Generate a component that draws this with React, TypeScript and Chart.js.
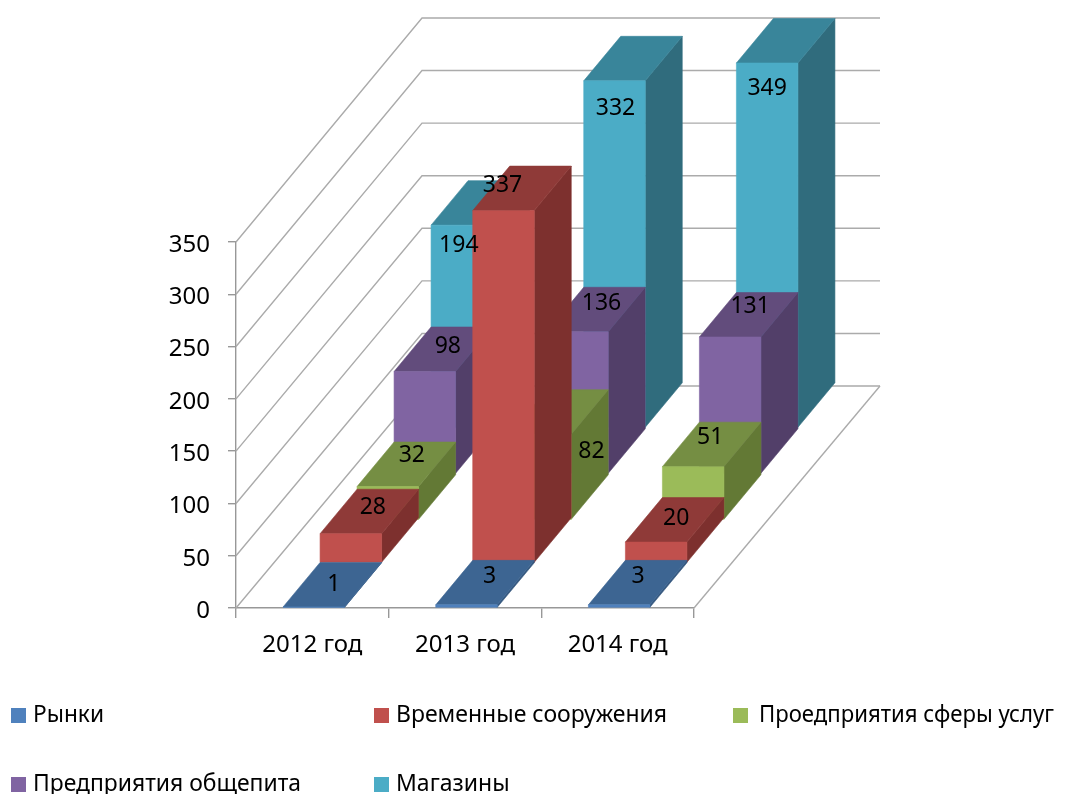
import React, { useEffect, useRef } from "react";
import { Chart, registerables } from "chart.js";

Chart.register(...registerables);

const categories = ["2012 год", "2013 год", "2014 год"];
const seriesNames = ["Рынки", "Временные сооружения", "Проедприятия сферы услуг", "Предприятия общепита", "Магазины"];
const rynki = [1, 3, 3];
const vremennye = [28, 337, 20];
const uslugi = [32, 82, 51];
const obshchepit = [98, 136, 131];
const magaziny = [194, 332, 349];
const seriesValues = [rynki, vremennye, uslugi, obshchepit, magaziny];

const frontColors = ["#4F81BD", "#C0504D", "#9BBB59", "#8064A2", "#4BACC6"];
const topColors = ["#3D6592", "#8F3A38", "#758E43", "#624C7C", "#39859A"];
const sideColors = ["#33567D", "#7D302E", "#637935", "#523F69", "#306C7D"];

// perspective of the reference: how far each series row sits back
const rowDx = [0, 37, 74, 111, 148];
const rowDy = [0, 45, 88, 134, 180];
const barDepthX = 37;
const barDepthY = 44.5;
const wallDx = 186;
const wallDy = 222;
const wallStretch = 2;
const barShift = 1.5;

// hand-placed data label offsets from front-face centre / top
const labelNudge = [
  [[20, -24], [23, -29], [19, -29]],
  [[22, -27], [-1, -26], [20, -25]],
  [[24, -32], [51, 16], [17, -30]],
  [[23, -26], [24, -29], [20, -32]],
  [[-3, 19], [1, 27], [0, 24]],
];

const legendSlots = [
  [11, 716],
  [374, 716],
  [733, 716],
  [11, 785],
  [374, 785],
];
const legendTextGap = [22, 22, 26, 22, 22];
const legendWidths = [71, 274, 295, 268, 115];

const FONT = '"Noto Sans"';
const TICK_SIZE = 24;
const LABEL_SIZE = 23;
const LEGEND_SIZE = 23;
const GRID = "#ABABAB";
const AXIS = "#989898";

function poly(ctx: CanvasRenderingContext2D, pts: number[][], fill: string) {
  ctx.beginPath();
  pts.forEach((p, i) => (i ? ctx.lineTo(p[0], p[1]) : ctx.moveTo(p[0], p[1])));
  ctx.closePath();
  ctx.fillStyle = fill;
  ctx.fill();
  ctx.strokeStyle = fill;
  ctx.lineWidth = 0.6;
  ctx.stroke();
}

const bars3d = {
  id: "bars3d",
  beforeDatasetsDraw(chart: any) {
    const ctx: CanvasRenderingContext2D = chart.ctx;
    const { left, right, bottom } = chart.chartArea;
    const y = chart.scales.y;
    ctx.save();
    // walls + floor
    ctx.strokeStyle = GRID;
    ctx.lineWidth = 1.4;
    y.ticks.forEach((t: any) => {
      const py = y.getPixelForValue(t.value);
      const dy = wallDy + (wallStretch * t.value) / y.max;
      ctx.beginPath();
      ctx.moveTo(left, py);
      ctx.lineTo(left + wallDx, py - dy);
      ctx.lineTo(right + wallDx, py - dy);
      ctx.stroke();
    });
    ctx.beginPath();
    ctx.moveTo(right, bottom);
    ctx.lineTo(right + wallDx, bottom - wallDy);
    ctx.stroke();

    // bars, back row first
    for (let s = seriesNames.length - 1; s >= 0; s--) {
      const meta = chart.getDatasetMeta(s);
      meta.data.forEach((bar: any) => {
        const x0 = bar.x - bar.width / 2 + barShift + rowDx[s];
        const x1 = x0 + bar.width;
        const yTop = bar.y - rowDy[s];
        const yBase = bar.base - rowDy[s];
        const dx = barDepthX;
        const dy = barDepthY;
        poly(ctx, [[x1, yTop], [x1 + dx, yTop - dy], [x1 + dx, yBase - dy], [x1, yBase]], sideColors[s]);
        poly(ctx, [[x0, yTop], [x0 + dx, yTop - dy], [x1 + dx, yTop - dy], [x1, yTop]], topColors[s]);
        poly(ctx, [[x0, yTop], [x1, yTop], [x1, yBase], [x0, yBase]], frontColors[s]);
      });
    }

    // data labels
    ctx.fillStyle = "#000000";
    ctx.font = `${LABEL_SIZE}px ${FONT}`;
    ctx.textAlign = "center";
    ctx.textBaseline = "middle";
    for (let s = seriesNames.length - 1; s >= 0; s--) {
      const meta = chart.getDatasetMeta(s);
      meta.data.forEach((bar: any, c: number) => {
        const n = labelNudge[s][c];
        ctx.fillText(
          String(seriesValues[s][c]),
          bar.x + barShift + rowDx[s] + n[0],
          bar.y - rowDy[s] + n[1] + 1
        );
      });
    }

    // legend
    ctx.font = `${LEGEND_SIZE}px ${FONT}`;
    ctx.textAlign = "left";
    seriesNames.forEach((name, s) => {
      const [lx, ly] = legendSlots[s];
      ctx.fillStyle = frontColors[s];
      ctx.fillRect(lx, ly - 8, 15, 15);
      ctx.fillStyle = "#000000";
      ctx.fillText(name, lx + legendTextGap[s], ly - 1, legendWidths[s]);
    });
    ctx.restore();
    return false;
  },
};

export default function App() {
  const ref = useRef<HTMLCanvasElement>(null);
  useEffect(() => {
    document.body.style.margin = "0";
    const chart = new Chart(ref.current as HTMLCanvasElement, {
      type: "bar",
      data: {
        labels: categories,
        datasets: seriesNames.map((label, s) => ({
          label,
          data: seriesValues[s],
          backgroundColor: frontColors[s],
          grouped: false,
          barPercentage: 0.403,
          categoryPercentage: 1,
        })),
      },
      options: {
        animation: false,
        responsive: false,
        maintainAspectRatio: false,
        layout: { padding: { left: 146, right: 374, top: 242, bottom: 126 } },
        plugins: { legend: { display: false }, tooltip: { enabled: false }, title: { display: false } },
        scales: {
          x: {
            offset: true,
            afterFit: (s: any) => { s.height = 60; },
            grid: { offset: true, drawOnChartArea: false, tickLength: 10, color: AXIS, lineWidth: 1.4 },
            border: { color: AXIS, width: 1.4 },
            ticks: { color: "#000000", padding: 13, font: { family: "Noto Sans", size: TICK_SIZE } },
          },
          y: {
            min: 0,
            max: 350,
            afterFit: (s: any) => { s.width = 90; },
            grid: { drawOnChartArea: false, tickLength: 8, color: AXIS, lineWidth: 1.4 },
            border: { color: AXIS, width: 1.4 },
            ticks: { stepSize: 50, color: "#000000", padding: 18, labelOffset: 3, font: { family: "Noto Sans", size: TICK_SIZE } },
          },
        },
      },
      plugins: [bars3d],
    } as any);
    return () => chart.destroy();
  }, []);
  return <canvas ref={ref} width={1068} height={794} style={{ display: "block", position: "fixed", left: 0, top: 0 }} />;
}
